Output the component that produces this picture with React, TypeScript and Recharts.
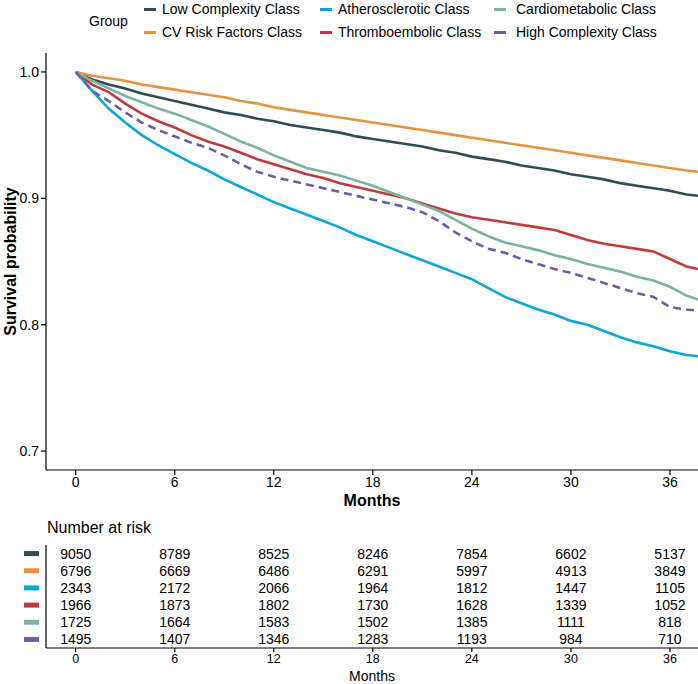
import React from "react";
import { LineChart, Line, XAxis, YAxis, ScatterChart, Scatter } from "recharts";

const groups = [
  "Low Complexity Class",
  "CV Risk Factors Class",
  "Atherosclerotic Class",
  "Thromboembolic Class",
  "Cardiometabolic Class",
  "High Complexity Class",
];
const colors = ["#2F4B53", "#E8913F", "#0AA6DB", "#C23B3C", "#79B59A", "#6A5FA3"];
const seriesKeys = ["low", "cv", "athero", "thrombo", "cardio", "high"];

// survival curves, read at each month
const months = [
  0, 1, 2, 3, 4, 5, 6, 7, 8, 9, 10, 11, 12, 13, 14, 15, 16, 17, 18, 19, 20, 21, 22, 23, 24, 25, 26, 27, 28,
  29, 30, 31, 32, 33, 34, 35, 36, 37, 37.7,
];
const lowComplexity = [
  1.0, 0.994, 0.99, 0.987, 0.983, 0.98, 0.977, 0.974, 0.971, 0.968, 0.966, 0.963, 0.961, 0.958, 0.956, 0.954,
  0.952, 0.949, 0.947, 0.945, 0.943, 0.941, 0.938, 0.936, 0.933, 0.931, 0.929, 0.926, 0.924, 0.922, 0.919,
  0.917, 0.915, 0.912, 0.91, 0.908, 0.906, 0.903, 0.902,
];
const cvRisk = [
  1.0, 0.997, 0.995, 0.993, 0.99, 0.988, 0.986, 0.984, 0.982, 0.98, 0.977, 0.975, 0.972, 0.97, 0.968, 0.966,
  0.964, 0.962, 0.96, 0.958, 0.956, 0.954, 0.952, 0.95, 0.948, 0.946, 0.944, 0.942, 0.94, 0.938, 0.936, 0.934,
  0.932, 0.93, 0.928, 0.926, 0.924, 0.922, 0.921,
];
const atherosclerotic = [
  1.0, 0.985, 0.971, 0.96, 0.95, 0.942, 0.935, 0.928, 0.922, 0.915, 0.909, 0.903, 0.897, 0.892, 0.887, 0.882,
  0.877, 0.871, 0.866, 0.861, 0.856, 0.851, 0.846, 0.841, 0.836, 0.829, 0.822, 0.817, 0.812, 0.808, 0.803,
  0.8, 0.795, 0.79, 0.786, 0.783, 0.779, 0.776, 0.775,
];
const thromboembolic = [
  1.0, 0.99, 0.984, 0.975, 0.967, 0.961, 0.956, 0.95, 0.945, 0.941, 0.936, 0.931, 0.927, 0.923, 0.919, 0.916,
  0.912, 0.909, 0.906, 0.903, 0.9, 0.896, 0.892, 0.888, 0.885, 0.883, 0.881, 0.879, 0.877, 0.875, 0.871,
  0.867, 0.864, 0.862, 0.86, 0.858, 0.852, 0.846, 0.844,
];
const cardiometabolic = [
  1.0, 0.993, 0.987, 0.981, 0.976, 0.971, 0.967, 0.962, 0.957, 0.951, 0.945, 0.94, 0.934, 0.929, 0.924, 0.921,
  0.918, 0.914, 0.91, 0.905, 0.9, 0.895, 0.89, 0.883, 0.876, 0.87, 0.865, 0.862, 0.859, 0.855, 0.852, 0.848,
  0.845, 0.842, 0.838, 0.835, 0.83, 0.823, 0.82,
];
const highComplexity = [
  1.0, 0.985, 0.977, 0.968, 0.96, 0.954, 0.949, 0.944, 0.94, 0.934, 0.927, 0.921, 0.917, 0.914, 0.911, 0.908,
  0.905, 0.902, 0.899, 0.896, 0.893, 0.889, 0.882, 0.873, 0.866, 0.86, 0.857, 0.852, 0.848, 0.844, 0.841,
  0.837, 0.833, 0.829, 0.825, 0.822, 0.814, 0.812, 0.811,
];
const seriesValues = [lowComplexity, cvRisk, atherosclerotic, thromboembolic, cardiometabolic, highComplexity];

// number at risk table
const riskMonths = [0, 6, 12, 18, 24, 30, 36];
const riskLow = [9050, 8789, 8525, 8246, 7854, 6602, 5137];
const riskCv = [6796, 6669, 6486, 6291, 5997, 4913, 3849];
const riskAthero = [2343, 2172, 2066, 1964, 1812, 1447, 1105];
const riskThrombo = [1966, 1873, 1802, 1730, 1628, 1339, 1052];
const riskCardio = [1725, 1664, 1583, 1502, 1385, 1111, 818];
const riskHigh = [1495, 1407, 1346, 1283, 1193, 984, 710];
const riskValues = [riskLow, riskCv, riskAthero, riskThrombo, riskCardio, riskHigh];

const xTicks = [0, 6, 12, 18, 24, 30, 36];
const yTicks = [0.7, 0.8, 0.9, 1.0];
const xDomain = [-1.8, 37.7];

const survivalData = months.map((m, i) => {
  const row: Record<string, number> = { month: m };
  seriesKeys.forEach((k, s) => {
    row[k] = seriesValues[s][i];
  });
  return row;
});

const FONT = "'Liberation Sans', Arial, sans-serif";
const axisStroke = { stroke: "#000", strokeWidth: 1.2 };

function RiskCell(props: any) {
  const { cx, cy, payload } = props;
  return (
    <text x={cx} y={cy} textAnchor="middle" dominantBaseline="central" fontSize={14} fill="#000" fontFamily={FONT}>
      {payload.n}
    </text>
  );
}

function RiskKeyTick(props: any) {
  const { y, payload } = props;
  return <rect x={24} y={y - 2.5} width={15} height={5} fill={colors[payload.value - 1]} />;
}

export default function App() {
  return (
    <div
      style={{
        position: "absolute",
        left: 0,
        top: 0,
        width: 698,
        height: 684,
        background: "#fff",
        fontFamily: FONT,
        color: "#000",
        overflow: "hidden",
      }}
    >
      {/* legend */}
      <div style={{ position: "absolute", left: 89, top: 13, fontSize: 14, lineHeight: "16px" }}>Group</div>
      {groups.map((g, i) => {
        const col = Math.floor(i / 2);
        const row = i % 2;
        const keyLeft = [144, 320, 494][col];
        const textLeft = [162, 338, 516][col];
        const top = row === 0 ? 1 : 24;
        return (
          <React.Fragment key={g}>
            <div
              style={{
                position: "absolute",
                left: keyLeft,
                top: top + 7,
                width: 12,
                height: 2.5,
                background: colors[i],
              }}
            />
            <div style={{ position: "absolute", left: textLeft, top, fontSize: 14, lineHeight: "16px" }}>{g}</div>
          </React.Fragment>
        );
      })}

      {/* survival curves */}
      <div style={{ position: "absolute", left: 0, top: 0 }}>
        <LineChart width={698} height={510} data={survivalData} margin={{ top: 53, right: 0, bottom: 0, left: 0 }}>
          <XAxis
            dataKey="month"
            type="number"
            domain={xDomain}
            ticks={xTicks}
            interval={0}
            allowDataOverflow
            height={40}
            tickSize={5}
            axisLine={axisStroke}
            tickLine={axisStroke}
            tick={{ fill: "#000", fontSize: 14, fontFamily: FONT }}
            label={{
              value: "Months",
              position: "insideBottom",
              offset: 4,
              style: { fontWeight: 700, fontSize: 16, fill: "#000", fontFamily: FONT },
            }}
          />
          <YAxis
            type="number"
            domain={[0.685, 1.015]}
            ticks={yTicks}
            interval={0}
            allowDataOverflow
            width={46}
            tickSize={5}
            tickFormatter={(v: number) => v.toFixed(1)}
            axisLine={axisStroke}
            tickLine={axisStroke}
            tick={{ fill: "#000", fontSize: 14, fontFamily: FONT }}
            label={{
              value: "Survival probability",
              angle: -90,
              position: "insideLeft",
              offset: 10,
              style: { textAnchor: "middle", fontWeight: 700, fontSize: 16, fill: "#000", fontFamily: FONT },
            }}
          />
          {seriesKeys.map((k, s) => (
            <Line
              key={k}
              dataKey={k}
              name={groups[s]}
              type="linear"
              stroke={colors[s]}
              strokeWidth={2.6}
              strokeDasharray={k === "high" ? "8 5" : undefined}
              dot={false}
              activeDot={false}
              isAnimationActive={false}
            />
          ))}
        </LineChart>
      </div>

      {/* number at risk */}
      <div style={{ position: "absolute", left: 47, top: 519, fontSize: 16, lineHeight: "18px" }}>Number at risk</div>
      <div style={{ position: "absolute", left: 0, top: 540 }}>
        <ScatterChart width={698} height={144} margin={{ top: 5, right: 0, bottom: 0, left: 0 }}>
          <XAxis
            dataKey="month"
            type="number"
            domain={xDomain}
            ticks={xTicks}
            interval={0}
            allowDataOverflow
            height={36}
            tickSize={4}
            axisLine={axisStroke}
            tickLine={axisStroke}
            tick={{ fill: "#000", fontSize: 12.5, fontFamily: FONT }}
            label={{
              value: "Months",
              position: "insideBottom",
              offset: 3,
              style: { fontSize: 14, fill: "#000", fontFamily: FONT },
            }}
          />
          <YAxis
            dataKey="row"
            type="number"
            domain={[0.5, 6.5]}
            ticks={[1, 2, 3, 4, 5, 6]}
            interval={0}
            reversed
            width={46}
            axisLine={axisStroke}
            tickLine={false}
            tick={<RiskKeyTick />}
          />
          {groups.map((g, i) => (
            <Scatter
              key={g}
              name={g}
              data={riskMonths.map((m, j) => ({ month: m, row: i + 1, n: riskValues[i][j] }))}
              shape={<RiskCell />}
              isAnimationActive={false}
            />
          ))}
        </ScatterChart>
      </div>
    </div>
  );
}
